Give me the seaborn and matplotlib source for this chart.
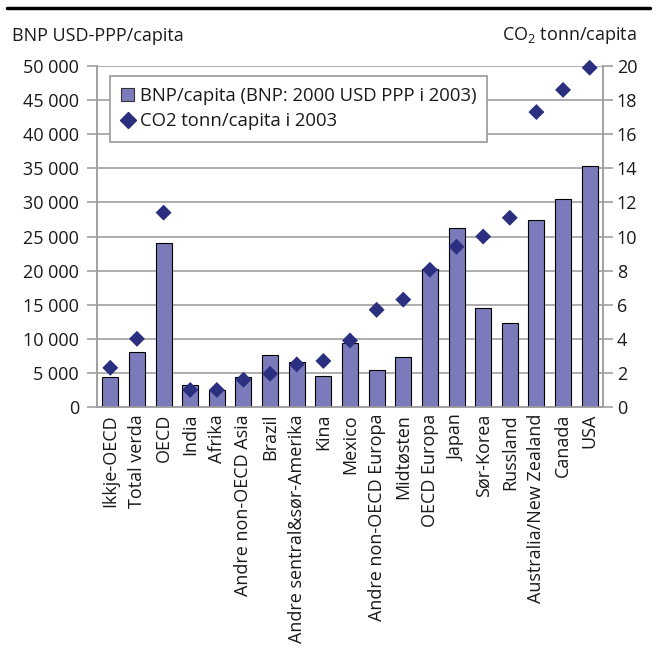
import matplotlib
matplotlib.use('Agg')
import matplotlib.pyplot as plt
import seaborn as sns
import pandas as pd
import numpy as np
from matplotlib.ticker import FuncFormatter
from matplotlib.patches import Patch
from matplotlib.lines import Line2D

regions = ['Ikkje-OECD', 'Total verda', 'OECD', 'India', 'Afrika',
           'Andre non-OECD Asia', 'Brazil', 'Andre sentral&sør-Amerika', 'Kina',
           'Mexico', 'Andre non-OECD Europa', 'Midtøsten', 'OECD Europa', 'Japan',
           'Sør-Korea', 'Russland', 'Australia/New Zealand', 'Canada', 'USA']
bnp_per_capita = [4450, 8100, 24000, 3200, 2550, 4350, 7600, 6550, 4600, 9400,
                  5500, 7300, 20300, 26300, 14500, 12300, 27400, 30500, 35400]
co2_per_capita = [2.3, 4.0, 11.4, 1.0, 1.0, 1.6, 1.95, 2.5, 2.7, 3.9,
                  5.7, 6.3, 8.05, 9.4, 10.0, 11.1, 17.3, 18.6, 19.9]

df = pd.DataFrame({'region': regions, 'bnp': bnp_per_capita, 'co2': co2_per_capita})

sns.set_style('white')
plt.rcParams['font.family'] = ['Open Sans', 'DejaVu Sans']
plt.rcParams['mathtext.fontset'] = 'custom'
plt.rcParams['mathtext.rm'] = 'Open Sans'
plt.rcParams['font.size'] = 13
plt.rcParams['text.color'] = '#1a1a1a'
plt.rcParams['xtick.labelcolor'] = '#1a1a1a'
plt.rcParams['ytick.labelcolor'] = '#1a1a1a'

bar_color = '#7b7bbb'
dot_color = '#2b2f7f'
grid_color = '#a0a0a0'

fig = plt.figure(figsize=(6.63, 6.48), dpi=100)
ax = fig.add_axes([0.1463, 0.3719, 0.7632, 0.5262])

sns.barplot(data=df, x='region', y='bnp', color=bar_color, edgecolor='black',
            linewidth=0.8, width=0.6, saturation=1, ax=ax, zorder=3)
ax.set_ylim(0, 50000)
ax.set_xlim(-0.5, len(regions) - 0.5)
ax.set_yticks(np.arange(0, 50001, 5000))
ax.yaxis.set_major_formatter(FuncFormatter(lambda v, p: f'{v:,.0f}'.replace(',', ' ')))
ax.grid(axis='y', color=grid_color, linewidth=1.2, zorder=0)
ax.set_axisbelow(True)
ax.set_xlabel('')
ax.set_ylabel('')
ax.set_xticks(range(len(regions)))
ax.set_xticklabels(regions, rotation=90)
ax.set_xticks(np.arange(-0.5, len(regions)), minor=True)
ax.tick_params(axis='x', which='major', length=0, pad=5)
ax.tick_params(axis='x', which='minor', length=6, color=grid_color, width=1.2, direction='out')
ax.tick_params(axis='y', length=7, color=grid_color, width=1.2, direction='out', left=True, pad=6)

ax2 = ax.twinx()
sns.scatterplot(data=df, x='region', y='co2', marker='D', s=66, color=dot_color,
                edgecolor='none', ax=ax2, zorder=4, clip_on=False)
ax2.set_ylim(0, 20)
ax2.set_yticks(np.arange(0, 21, 2))
ax2.set_ylabel('')
ax2.tick_params(axis='y', length=7, color=grid_color, width=1.2, direction='out', right=True, pad=3)

for a in (ax, ax2):
    for side in ('left', 'right', 'bottom'):
        a.spines[side].set_color(grid_color)
        a.spines[side].set_linewidth(1.2)
    a.spines['top'].set_visible(False)

handles = [Patch(facecolor=bar_color, edgecolor='#333333', linewidth=0.8),
           Line2D([], [], marker='D', color=dot_color, linestyle='none', markersize=8.5)]
leg = ax2.legend(handles, ['BNP/capita (BNP: 2000 USD PPP i 2003)', 'CO2 tonn/capita i 2003'],
                 loc='upper left', bbox_to_anchor=(0.0257, 0.9707), borderaxespad=0,
                 fancybox=False, framealpha=1, edgecolor=grid_color,
                 handlelength=0.7, handleheight=0.7, handletextpad=0.3,
                 borderpad=0.6, labelspacing=0.4, fontsize=13.3)
leg.get_frame().set_linewidth(1.3)

fig.text(0.018, 0.945, 'BNP USD-PPP/capita', ha='left', va='center', fontsize=13)
fig.text(0.96, 0.945, r'CO$_\mathregular{2}$ tonn/capita', ha='right', va='center', fontsize=13)
fig.add_artist(Line2D([0.01, 0.98], [0.988, 0.988], color='black', linewidth=2.5))

plt.savefig('out.png', dpi=100)
plt.close()
